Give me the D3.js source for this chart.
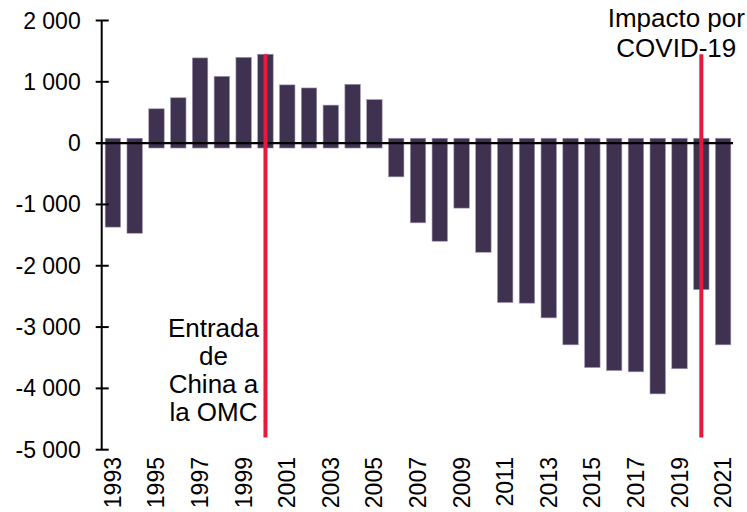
<!DOCTYPE html>
<html>
<head>
<meta charset="utf-8">
<script src="https://cdn.jsdelivr.net/npm/d3@7"></script>
<style>
  html, body { margin: 0; padding: 0; background: #fff; }
  svg { display: block; font-family: "Liberation Sans", Arial, sans-serif; }
</style>
</head>
<body>
<svg id="chart" width="747" height="512"></svg>
<script>
const years = [1993,1994,1995,1996,1997,1998,1999,2000,2001,2002,2003,2004,2005,2006,2007,2008,2009,2010,2011,2012,2013,2014,2015,2016,2017,2018,2019,2020,2021];
const values = [-1370,-1470,560,740,1390,1090,1400,1450,950,900,620,960,710,-550,-1300,-1600,-1060,-1780,-2600,-2610,-2850,-3290,-3660,-3710,-3730,-4090,-3680,-2390,-3290];
const yTicks = [2000,1000,0,-1000,-2000,-3000,-4000,-5000];
const xTickYears = [1993,1995,1997,1999,2001,2003,2005,2007,2009,2011,2013,2015,2017,2019,2021];
const events = [
  { year: 2000, top: 1450, bottom: -4800, lines: ["Entrada","de","China a","la OMC"] },
  { year: 2020, top: 1450, bottom: -4800, lines: ["Impacto por","COVID-19"] }
];
const baseOffset = 80; // bars extend slightly past zero as in source

const svg = d3.select("#chart");
const x = d3.scaleBand().domain(years).range([102, 734]).paddingInner(0.29).paddingOuter(0.145);
const y = d3.scaleLinear().domain([-5000, 2000]).range([449.7, 20.5]);
const fmt = v => d3.format(",")(v).replace(/,/g, " ").replace("−","-");

// bars
svg.append("g").selectAll("rect").data(years.map((yr,i)=>({yr, v: values[i]})))
  .join("rect")
  .attr("x", d => x(d.yr))
  .attr("width", x.bandwidth())
  .attr("y", d => d.v >= 0 ? y(d.v) : y(baseOffset))
  .attr("height", d => d.v >= 0 ? y(-baseOffset) - y(d.v) : y(d.v) - y(baseOffset))
  .attr("fill", "#3f3150")
  .attr("stroke", "#a79cb8")
  .attr("stroke-width", 0.6);

// y axis
const yAxis = svg.append("g").attr("transform", "translate(101.7,0)");
yAxis.append("line").attr("x1",0).attr("x2",0).attr("y1", y(2000)).attr("y2", y(-5000))
  .attr("stroke","#000").attr("stroke-width",2);
yAxis.selectAll("line.tick").data(yTicks).join("line").attr("class","tick")
  .attr("x1",-6).attr("x2",7).attr("y1",d=>y(d)).attr("y2",d=>y(d))
  .attr("stroke","#000").attr("stroke-width",2);
yAxis.selectAll("text").data(yTicks).join("text")
  .attr("x",-21).attr("y",d=>y(d)).attr("dy","0.35em")
  .attr("text-anchor","end").attr("font-size",23).attr("fill","#000")
  .text(d => fmt(d));

// zero line
svg.append("line").attr("x1",96).attr("x2",733).attr("y1",y(0)).attr("y2",y(0))
  .attr("stroke","#000").attr("stroke-width",2.2);

// x labels
svg.append("g").selectAll("text").data(xTickYears).join("text")
  .attr("transform", d => `translate(${x(d)+x.bandwidth()/2+8},457) rotate(-90)`)
  .attr("text-anchor","end").attr("font-size",23).attr("fill","#000")
  .text(d => d);

// event lines
svg.append("g").selectAll("line").data(events).join("line")
  .attr("x1", d => x(d.year)+x.bandwidth()/2).attr("x2", d => x(d.year)+x.bandwidth()/2)
  .attr("y1", d => y(d.top)).attr("y2", d => y(d.bottom))
  .attr("stroke","#e8193c").attr("stroke-width",4);

// annotations
const ann1 = svg.append("text").attr("font-size",26).attr("text-anchor","middle").attr("fill","#000");
ann1.selectAll("tspan").data(events[0].lines).join("tspan")
  .attr("x", x(2000)+x.bandwidth()/2 - 52)
  .attr("y", (d,i) => 336.5 + i*28.2)
  .text(d => d);
const ann2 = svg.append("text").attr("font-size",26).attr("text-anchor","middle").attr("fill","#000");
ann2.selectAll("tspan").data(events[1].lines).join("tspan")
  .attr("x", x(2020)+x.bandwidth()/2 - 25)
  .attr("y", (d,i) => 27.3 + i*29.7)
  .text(d => d);
</script>
</body>
</html>
